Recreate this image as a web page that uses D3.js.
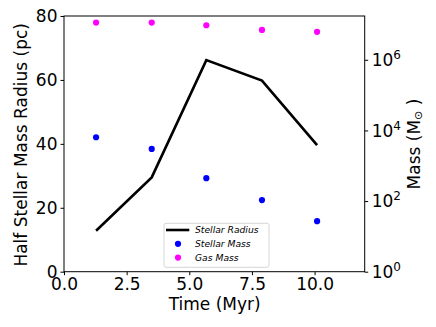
<!DOCTYPE html>
<html><head><meta charset="utf-8">
<script src="https://cdn.jsdelivr.net/npm/d3@7"></script>
<style>body{margin:0;background:#fff}svg{display:block;font-family:"DejaVu Sans",sans-serif}</style>
</head><body><svg id="c" width="436" height="327"></svg>
<script>
const times = [1.28, 3.5, 5.68, 7.9, 10.1];
const stellarRadius = [12.8, 29.5, 66.2, 59.8, 39.6];
const stellarMass = [6400, 3000, 445, 107, 27];
const gasMass = [1.13e7, 1.13e7, 9.5e6, 7.0e6, 6.2e6];
const xTicks = [0, 2.5, 5, 7.5, 10];
const yTicks = [0, 20, 40, 60, 80];
const massTicks = [0, 2, 4, 6];

const svg = d3.select("#c");
const L = 64, R = 364.7, T = 16, B = 271.7;
const FS = 17;
const x = d3.scaleLinear().domain([0, 12]).range([L, R]);
const y = d3.scaleLinear().domain([0, 80]).range([B, T]);
const ym = d3.scaleLog().domain([1, Math.pow(10, 7.24)]).range([B, T]);

svg.append("rect").attr("x", L).attr("y", T).attr("width", R - L).attr("height", B - T)
  .attr("fill", "none").attr("stroke", "#000").attr("stroke-width", 1);

const xa = svg.append("g").attr("transform", `translate(0,${B})`)
  .call(d3.axisBottom(x).tickValues(xTicks).tickFormat(d3.format(".1f")).tickSizeOuter(0).tickSize(3.5).tickPadding(3));
const ya = svg.append("g").attr("transform", `translate(${L},0)`)
  .call(d3.axisLeft(y).tickValues(yTicks).tickFormat(d3.format("d")).tickSizeOuter(0).tickSize(3.5).tickPadding(3));
const yr = svg.append("g").attr("transform", `translate(${R},0)`)
  .call(d3.axisRight(ym).tickValues(massTicks.map(e => Math.pow(10, e))).tickFormat("").tickSizeOuter(0).tickSize(3.5));
[xa, ya, yr].forEach(g => { g.select(".domain").remove(); g.selectAll("text").attr("font-size", FS).attr("fill", "#000").attr("font-family", "DejaVu Sans"); g.selectAll("line").attr("stroke", "#000"); });
xa.selectAll("text").attr("dy", "0.71em");

massTicks.forEach(e => {
  const t = svg.append("text").attr("x", R + 7).attr("y", ym(Math.pow(10, e)) + 6.3)
    .attr("font-size", FS).attr("fill", "#000");
  t.append("tspan").text("10");
  t.append("tspan").attr("font-size", 12).attr("dy", -7).text(e);
});

svg.append("path").datum(times.map((t, i) => [t, stellarRadius[i]]))
  .attr("d", d3.line().x(d => x(d[0])).y(d => y(d[1])))
  .attr("fill", "none").attr("stroke", "#000").attr("stroke-width", 2.6);

svg.selectAll(".sm").data(times).enter().append("circle")
  .attr("cx", d => x(d)).attr("cy", (d, i) => ym(stellarMass[i])).attr("r", 3.1).attr("fill", "#0000ff");
svg.selectAll(".gm").data(times).enter().append("circle")
  .attr("cx", d => x(d)).attr("cy", (d, i) => ym(gasMass[i])).attr("r", 3.1).attr("fill", "#ff00ff");

svg.append("text").attr("x", 214.7).attr("y", 309.5).attr("text-anchor", "middle").attr("font-size", FS).text("Time (Myr)");
svg.append("text").attr("transform", `translate(27,${(T + B) / 2 + 1}) rotate(-90)`).attr("text-anchor", "middle").attr("font-size", FS).text("Half Stellar Mass Radius (pc)");
const rl = svg.append("text").attr("transform", `translate(420,144) rotate(-90)`).attr("text-anchor", "middle").attr("font-size", FS);
rl.append("tspan").text("Mass (M");
rl.append("tspan").attr("font-size", 11).attr("dy", 2).text("⊙");
rl.append("tspan").attr("dy", -2).text(" )");

const lg = svg.append("g");
lg.append("rect").attr("x", 164).attr("y", 223.3).attr("width", 105).attr("height", 44).attr("rx", 2)
  .attr("fill", "#fff").attr("fill-opacity", 0.8).attr("stroke", "#ccc").attr("stroke-width", 0.8);
const items = [["Stellar Radius", "line", "#000"], ["Stellar Mass", "dot", "#0000ff"], ["Gas Mass", "dot", "#ff00ff"]];
items.forEach((it, i) => {
  const yy = 230 + i * 13.8;
  if (it[1] === "line") lg.append("line").attr("x1", 166).attr("x2", 189.3).attr("y1", yy).attr("y2", yy).attr("stroke", "#000").attr("stroke-width", 2.6);
  else lg.append("circle").attr("cx", 178).attr("cy", yy).attr("r", 3.1).attr("fill", it[2]);
  lg.append("text").attr("x", 195).attr("y", yy + 3.4).attr("font-size", 9.2).attr("font-style", "italic").text(it[0]);
});
</script></body></html>
